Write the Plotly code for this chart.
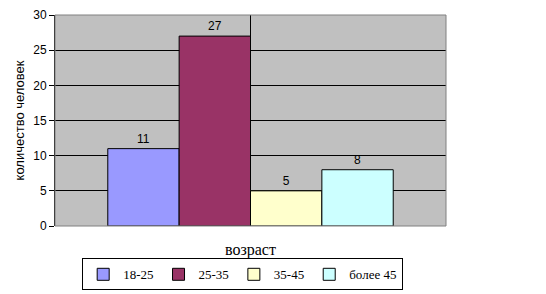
import plotly.graph_objects as go

categories = ["18-25", "25-35", "35-45", "более 45"]
values = [11, 27, 5, 8]
colors = ["#9999FF", "#993366", "#FFFFCC", "#CCFFFF"]
y_ticks = [0, 5, 10, 15, 20, 25, 30]

fig = go.Figure()
for name, v, c in zip(categories, values, colors):
    fig.add_trace(go.Bar(
        x=[""], y=[v], name=name,
        marker=dict(color=c, line=dict(color="black", width=1)),
        text=[str(v)], textposition="outside", cliponaxis=False,
        textfont=dict(family="Arial, Liberation Sans", size=12, color="black"),
    ))

fig.update_layout(
    width=546, height=294,
    margin=dict(l=55, r=100, t=15, b=68, autoexpand=False),
    paper_bgcolor="white", plot_bgcolor="#C0C0C0",
    barmode="group", bargap=0.27, bargroupgap=0,
    showlegend=True,
    legend=dict(orientation="h", x=0.48, xanchor="center", y=-0.305, yanchor="bottom",
                bordercolor="black", borderwidth=1, bgcolor="white",
                font=dict(family="Liberation Serif, Times New Roman", size=13, color="black"),
                traceorder="normal", itemwidth=30, tracegroupgap=0),
    xaxis=dict(showgrid=True, gridcolor="black", gridwidth=1, showticklabels=False,
               ticks="", showline=False, zeroline=False),
    yaxis=dict(range=[0, 30], tickvals=y_ticks, showgrid=True, gridcolor="black", gridwidth=1,
               zeroline=False, showline=True, linecolor="black", linewidth=1,
               ticks="outside", ticklen=5, tickcolor="black",
               tickfont=dict(family="Arial, Liberation Sans", size=12, color="black"),
               title=dict(text="количество человек", standoff=5,
                          font=dict(family="Arial, Liberation Sans", size=13, color="black"))),
    annotations=[dict(text="возраст", xref="paper", yref="paper", x=0.5, y=-0.115,
                      xanchor="center", yanchor="middle", showarrow=False,
                      font=dict(family="Liberation Serif, Times New Roman", size=16, color="black"))],
    shapes=[dict(type="rect", xref="paper", yref="paper", x0=0, x1=1, y0=0, y1=1,
                 line=dict(color="#808080", width=1), layer="above")],
)

fig.write_html("out.html")
